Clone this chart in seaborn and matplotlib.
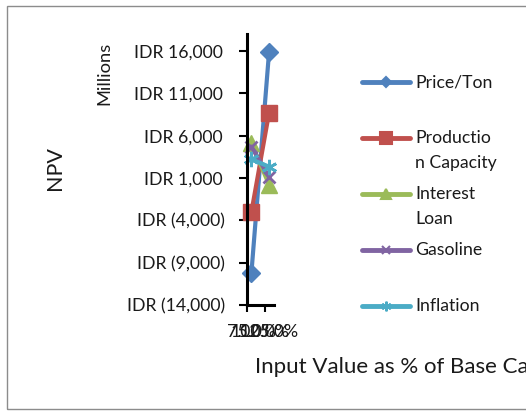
import matplotlib
matplotlib.use("Agg")
import matplotlib.pyplot as plt
from matplotlib.lines import Line2D
from matplotlib.patches import Rectangle
import seaborn as sns
import pandas as pd

# ---- data (100% column left blank; lines connect across it) ----
x_labels = ["75.0%", "100.0%", "125.0%"]
series_names = ["Price/Ton", "Production Capacity", "Interest Loan", "Gasoline", "Inflation"]
legend_labels = ["Price/Ton", "Productio\nn Capacity", "Interest\nLoan", "Gasoline", "Inflation"]
price_ton = [-10200, None, 15900]
production_capacity = [-3000, None, 8700]
interest_loan = [5100, None, 200]
gasoline = [4700, None, 1100]
inflation = [3200, None, 2330]
y_ticks = [-14000, -9000, -4000, 1000, 6000, 11000, 16000]

colors = ["#4F81BD", "#C0504D", "#9BBB59", "#8064A2", "#4BACC6"]
markers = ["D", "s", "^", "x", (6, 2, 0)]
msizes = [9, 11, 11, 9, 11]
leg_msizes = [5, 9, 7, 6, 7]

values = [price_ton, production_capacity, interest_loan, gasoline, inflation]
rows = []
for name, vals in zip(series_names, values):
    for i, v in enumerate(vals):
        if v is not None:
            rows.append({"series": name, "pos": i, "npv": v})
df = pd.DataFrame(rows)

sns.set_style("white")
plt.rcParams["font.family"] = ["Lato", "DejaVu Sans"]

FS = 12.7
W, H = 526, 411
fig = plt.figure(figsize=(W / 100, H / 100), dpi=100)
fig.patch.set_facecolor("white")

# chart border (cropped at right)
fig.add_artist(Rectangle((7 / W, 1 - 409 / H), 600 / W, (409 - 6) / H,
                         transform=fig.transFigure, fill=False,
                         edgecolor="#8c8c8c", lw=1.0))

ax = fig.add_axes([247 / W, 1 - 305 / H, 26.5 / W, (305 - 34) / H])
for name, c, m, ms in zip(series_names, colors, markers, msizes):
    sub = df[df["series"] == name]
    sns.lineplot(data=sub, x="pos", y="npv", ax=ax, color=c, lw=3.0,
                 marker=m, markersize=ms, markeredgecolor=c,
                 markeredgewidth=2 if m in ("x",) or isinstance(m, tuple) else 1,
                 legend=False, clip_on=False)

ax.set_xlim(-0.5, 2.5)
ax.set_ylim(-14000, 18000)
ax.set_xlabel("")
ax.set_ylabel("")

def fmt(v):
    if v < 0:
        return f"IDR ({abs(v):,})"
    return f"IDR {v:,}\u2009"

ax.set_yticks(y_ticks, [fmt(v) for v in y_ticks])
ax.set_xticks([-0.5, 1.5], ["", ""])
ax.set_xticks([0, 1, 2], x_labels, minor=True)
ax.tick_params(axis="y", which="major", direction="out", length=6, width=1.5,
               color="black", pad=10, labelsize=FS, left=True)
ax.tick_params(axis="x", which="major", direction="out", length=5, width=1.5,
               color="black", bottom=True)
ax.tick_params(axis="x", which="minor", length=0, pad=14, labelsize=FS)
for lab in ax.get_yticklabels():
    lab.set_color("#1a1a1a")
for lab in ax.get_xticklabels(minor=True):
    lab.set_color("#1a1a1a")

for s in ["top", "right"]:
    ax.spines[s].set_visible(False)
for s in ["left", "bottom"]:
    ax.spines[s].set_color("black")
    ax.spines[s].set_linewidth(2.2)
ax.set_facecolor("none")
ax.grid(False)

# axis titles
fig.text(104 / W, 1 - 73 / H, "Millions", rotation=90, ha="center", va="center",
         fontsize=13.2, color="#1a1a1a")
fig.text(55 / W, 1 - 168 / H, "NPV", rotation=90, ha="center", va="center",
         fontsize=15.5, color="#1a1a1a")
fig.text(255 / W, 1 - 367 / H, "Input Value as % of Base Case", ha="left",
         va="center", fontsize=16, color="#1a1a1a")

# legend
leg_y = [82, 138, 194, 250, 306]
for lab, c, m, lms, y in zip(legend_labels, colors, markers, leg_msizes, leg_y):
    fy = 1 - y / H
    fig.add_artist(Line2D([362 / W, 410 / W], [fy, fy], transform=fig.transFigure,
                          color=c, lw=3.5, solid_capstyle="round"))
    fig.add_artist(Line2D([386 / W], [fy], transform=fig.transFigure, color=c,
                          marker=m, markersize=lms, markeredgecolor=c,
                          markeredgewidth=1.5, linestyle="none"))
    for k, part in enumerate(lab.split("\n")):
        fig.text(415 / W, 1 - (y + 25 * k) / H, part, ha="left", va="center",
                 fontsize=FS, color="#1a1a1a")

fig.savefig("out.png", dpi=100)
